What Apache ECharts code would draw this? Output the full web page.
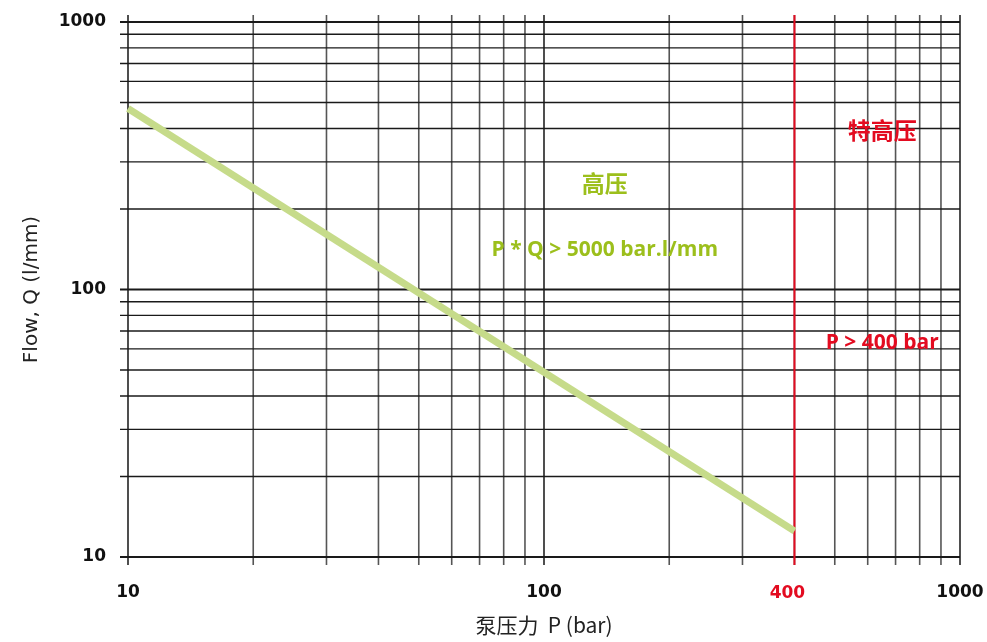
<!DOCTYPE html>
<html>
<head>
<meta charset="utf-8">
<script src="https://cdn.jsdelivr.net/npm/echarts@6/dist/echarts.min.js"></script>
<style>
  html, body { margin: 0; padding: 0; background: #fff; }
  #chart { width: 987px; height: 642px; }
</style>
</head>
<body>
<div id="chart"></div>
<script>
// P * Q = 5000 boundary line (pressure bar, flow l/mm)
const lineP = [10, 400];
const lineQ = [475, 12.5];

// log paper grid values
const pressureGrid = [10, 20, 30, 40, 50, 60, 70, 80, 90, 100, 200, 300, 400, 500, 600, 700, 800, 900, 1000];
const flowGrid = [10, 20, 30, 40, 50, 60, 70, 80, 90, 100, 200, 300, 400, 500, 600, 700, 800, 900, 1000];
const majorValues = [10, 100, 1000];

// limit line
const limitP = 400;

// annotations
const noteText = ['高压', 'P * Q > 5000 bar.l/mm', '特高压', 'P > 400 bar'];
const noteP = [140, 140, 650, 650];
const noteQ = [244, 141, 385, 63];
const noteKind = ['green', 'green', 'red', 'red'];

const GREEN_TXT = '#9cbf1c';
const GREEN_LINE = '#c6db8a';
const RED = '#e30b20';
const LABEL_FONT = "'DejaVu Sans', sans-serif";
const NOTE_FONT = "'Open Sans', 'Noto Sans CJK SC', sans-serif";

const chartDom = document.getElementById('chart');
const myChart = echarts.init(chartDom);

const option = {
  animation: false,
  grid: { left: 128, right: 27, top: 22, bottom: 85 },
  xAxis: {
    type: 'log',
    logBase: 10,
    min: 10,
    max: 1000,
    name: '泵压力  P (bar)',
    nameLocation: 'middle',
    nameGap: 58,
    nameTextStyle: { fontSize: 21, color: '#222', fontFamily: "'Noto Sans CJK SC', 'Open Sans', sans-serif" },
    axisLine: { show: false },
    axisTick: { show: false },
    splitLine: { show: false },
    axisLabel: {
      margin: 27,
      fontSize: 17,
      fontWeight: 'bold',
      color: '#111',
      fontFamily: LABEL_FONT,
      formatter: v => (majorValues.indexOf(Math.round(v)) >= 0 ? String(Math.round(v)) : '')
    }
  },
  yAxis: {
    type: 'log',
    logBase: 10,
    min: 10,
    max: 1000,
    name: 'Flow, Q (l/mm)',
    nameLocation: 'middle',
    nameGap: 86,
    nameTextStyle: { fontSize: 20, color: '#222', fontFamily: "'DejaVu Sans', sans-serif" },
    axisLine: { show: false },
    axisTick: { show: false },
    splitLine: { show: false },
    axisLabel: {
      margin: 22,
      fontSize: 17,
      fontWeight: 'bold',
      color: '#111',
      fontFamily: LABEL_FONT,
      formatter: v => (majorValues.indexOf(Math.round(v)) >= 0 ? String(Math.round(v)) : '')
    }
  },
  series: [
    {
      // vertical grid lines with outer ticks
      type: 'custom',
      z: 1,
      silent: true,
      data: pressureGrid.map(p => [p, 10]),
      renderItem: (params, api) => {
        const p = api.value(0);
        const top = api.coord([p, 1000]);
        const bottom = api.coord([p, 10]);
        const major = majorValues.indexOf(p) >= 0;
        return {
          type: 'line',
          shape: { x1: top[0], y1: top[1] - 7, x2: bottom[0], y2: bottom[1] + 8 },
          style: { stroke: major ? '#222' : '#555', lineWidth: 1.6 }
        };
      }
    },
    {
      // horizontal grid lines with outer ticks
      type: 'custom',
      z: 1,
      silent: true,
      data: flowGrid.map(q => [10, q]),
      renderItem: (params, api) => {
        const q = api.value(1);
        const left = api.coord([10, q]);
        const right = api.coord([1000, q]);
        const major = majorValues.indexOf(q) >= 0;
        return {
          type: 'line',
          shape: { x1: left[0] - 8, y1: left[1], x2: right[0], y2: right[1] },
          style: { stroke: '#1a1a1a', lineWidth: major ? 2 : 1.4 }
        };
      }
    },
    {
      // 400 bar limit
      type: 'custom',
      z: 3,
      silent: true,
      data: [[limitP, 10]],
      renderItem: (params, api) => {
        const p = api.value(0);
        const top = api.coord([p, 1000]);
        const bottom = api.coord([p, 10]);
        return {
          type: 'group',
          children: [
            {
              type: 'line',
              shape: { x1: top[0], y1: top[1] - 7, x2: bottom[0], y2: bottom[1] + 8 },
              style: { stroke: RED, lineWidth: 2 }
            },
            {
              type: 'text',
              x: bottom[0] - 7,
              y: bottom[1] + 37,
              style: {
                text: String(p),
                fill: RED,
                font: 'bold 17px ' + LABEL_FONT,
                align: 'center',
                verticalAlign: 'middle'
              }
            }
          ]
        };
      }
    },
    {
      type: 'line',
      z: 4,
      silent: true,
      symbol: 'none',
      data: lineP.map((p, i) => [p, lineQ[i]]),
      lineStyle: { color: GREEN_LINE, width: 7, cap: 'butt' }
    },
    {
      type: 'custom',
      z: 5,
      silent: true,
      data: noteText.map((t, i) => [noteP[i], noteQ[i], i]),
      renderItem: (params, api) => {
        const i = api.value(2);
        const pt = api.coord([api.value(0), api.value(1)]);
        const cjk = /[\u4e00-\u9fff]/.test(noteText[i]);
        return {
          type: 'text',
          x: pt[0],
          y: pt[1],
          style: {
            text: noteText[i],
            fill: noteKind[i] === 'green' ? GREEN_TXT : RED,
            font: 'bold ' + (cjk ? 23 : 21) + 'px ' + NOTE_FONT,
            align: 'center',
            verticalAlign: 'middle'
          }
        };
      }
    }
  ]
};

myChart.setOption(option);
window.addEventListener('resize', myChart.resize);
</script>
</body>
</html>
